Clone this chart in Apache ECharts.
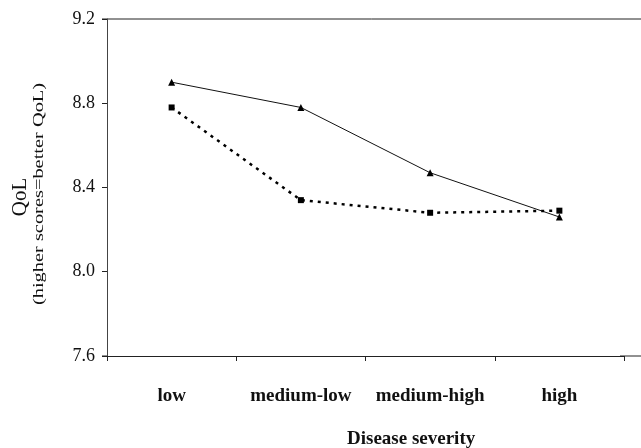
<!DOCTYPE html>
<html>
<head>
<meta charset="utf-8">
<script src="https://cdn.jsdelivr.net/npm/echarts@6/dist/echarts.min.js"></script>
<style>
  html, body { margin: 0; padding: 0; background: #fff; }
  #chart { width: 641px; height: 448px; }
</style>
</head>
<body>
<div id="chart"></div>
<script>
// values
var categories = ["low", "medium-low", "medium-high", "high"];
var groupTriangle = [8.90, 8.78, 8.47, 8.26];
var groupSquare = [8.78, 8.34, 8.28, 8.29];
var yTicks = { min: 7.6, max: 9.2, interval: 0.4 };

var chart = echarts.init(document.getElementById("chart"));
var serif = "Liberation Serif, Times New Roman, serif";

chart.setOption({
  animation: false,
  grid: { left: 107, right: 17, top: 19, bottom: 92 },
  xAxis: {
    type: "category",
    data: categories,
    boundaryGap: true,
    axisLine: { lineStyle: { color: "#222", width: 1 } },
    axisTick: { show: true, inside: false, length: 5, lineStyle: { color: "#222" } },
    axisLabel: {
      interval: 0,
      margin: 31,
      color: "#111",
      fontFamily: serif,
      fontWeight: "bold",
      fontSize: 19
    },
    splitLine: { show: false }
  },
  yAxis: {
    type: "value",
    min: yTicks.min,
    max: yTicks.max,
    interval: yTicks.interval,
    axisLine: { show: true, lineStyle: { color: "#444", width: 1 } },
    axisTick: { show: true, inside: false, length: 5, lineStyle: { color: "#222" } },
    axisLabel: {
      margin: 12,
      padding: [4, 0, 0, 0],
      color: "#111",
      fontFamily: serif,
      fontSize: 18,
      formatter: function (v) { return v.toFixed(1); }
    },
    splitLine: { show: false }
  },
  graphic: [
    // top frame line, left overhang of bottom line, right overhang of the frame
    { type: "line", shape: { x1: 102, y1: 19, x2: 641, y2: 19 }, style: { stroke: "#222", lineWidth: 1 }, silent: true },
    { type: "line", shape: { x1: 102, y1: 356, x2: 108, y2: 356 }, style: { stroke: "#222", lineWidth: 1 }, silent: true },
    { type: "line", shape: { x1: 620, y1: 356, x2: 641, y2: 356 }, style: { stroke: "#222", lineWidth: 1 }, silent: true },
    {
      type: "text",
      x: 20,
      y: 197,
      rotation: Math.PI / 2,
      style: {
        text: "QoL",
        fontFamily: serif,
        fontSize: 21,
        fill: "#111",
        align: "center",
        verticalAlign: "middle"
      }
    },
    {
      type: "text",
      x: 39,
      y: 194,
      rotation: Math.PI / 2,
      scaleX: 1.36,
      style: {
        text: "(higher scores=better QoL)",
        fontFamily: serif,
        fontSize: 15,
        fill: "#111",
        align: "center",
        verticalAlign: "middle"
      }
    },
    {
      type: "text",
      left: 347,
      top: 430,
      style: {
        text: "Disease severity",
        fontFamily: serif,
        fontWeight: "bold",
        fontSize: 19,
        fill: "#111"
      }
    }
  ],
  series: [
    {
      name: "Group 1",
      type: "line",
      data: groupTriangle,
      symbol: "triangle",
      symbolSize: 7,
      itemStyle: { color: "#000" },
      lineStyle: { color: "#111", width: 1 }
    },
    {
      name: "Group 2",
      type: "line",
      data: groupSquare,
      symbol: "rect",
      symbolSize: 6,
      itemStyle: { color: "#000" },
      lineStyle: { color: "#000", width: 2.5, type: [3, 5] }
    }
  ]
});
</script>
</body>
</html>
